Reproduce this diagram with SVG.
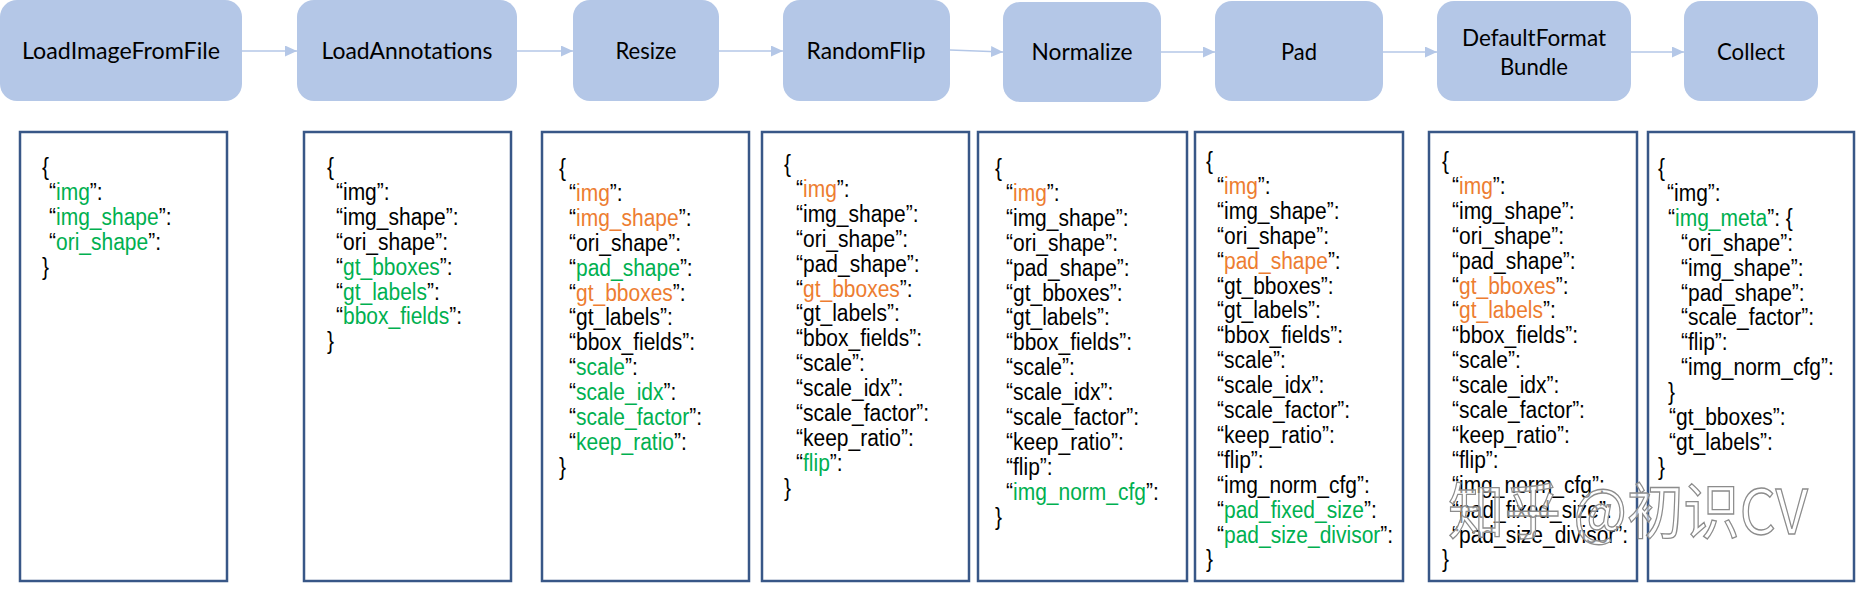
<svg xmlns="http://www.w3.org/2000/svg" width="1856" height="590" viewBox="0 0 1856 590">
<style>
.step{fill:#b4c7e7;}
.lbl{font-family:Lato,"Liberation Sans",sans-serif;font-size:23px;fill:#000;text-anchor:middle;}
.box{fill:#fff;stroke:#385787;stroke-width:2.5;}
.t{font-family:"Liberation Sans",Arial,sans-serif;font-size:21px;fill:#000;}
.g{fill:#00b050;}
.o{fill:#ed7d31;}
.conn{stroke:#b4c7e7;stroke-width:1.6;fill:none;}
.wm{font-family:"Noto Sans CJK SC",sans-serif;font-size:56px;fill:#ffffff;fill-opacity:0.55;stroke:#8c8c8c;stroke-width:1.2;}
</style>
<defs>
<marker id="ah" markerUnits="userSpaceOnUse" markerWidth="13" markerHeight="11" refX="12" refY="5.5" orient="auto">
<path d="M0,0 L12,5.5 L0,11 Z" fill="#b4c7e7"/>
</marker>
</defs>
<rect width="1856" height="590" fill="#fff"/>

<g id="connectors">
<line class="conn" x1="242" y1="51" x2="297" y2="51" marker-end="url(#ah)"/>
<line class="conn" x1="517" y1="51" x2="573" y2="51" marker-end="url(#ah)"/>
<line class="conn" x1="719" y1="51" x2="783" y2="51" marker-end="url(#ah)"/>
<line class="conn" x1="950" y1="50" x2="1003" y2="52" marker-end="url(#ah)"/>
<line class="conn" x1="1161" y1="52" x2="1215" y2="52" marker-end="url(#ah)"/>
<line class="conn" x1="1383" y1="52" x2="1437" y2="52" marker-end="url(#ah)"/>
<line class="conn" x1="1631" y1="52" x2="1684" y2="52" marker-end="url(#ah)"/>
</g>

<g id="LoadImageFromFile">
<rect class="step" x="0" y="0" width="242" height="101" rx="17"/>
<text class="lbl" x="121" y="59" textLength="198" lengthAdjust="spacingAndGlyphs">LoadImageFromFile</text>
</g>
<g id="LoadAnnotations">
<rect class="step" x="297" y="0" width="220" height="101" rx="17"/>
<text class="lbl" x="407" y="59" textLength="171" lengthAdjust="spacingAndGlyphs">LoadAnnotations</text>
</g>
<g id="Resize">
<rect class="step" x="573" y="0" width="146" height="101" rx="17"/>
<text class="lbl" x="646" y="59" textLength="61" lengthAdjust="spacingAndGlyphs">Resize</text>
</g>
<g id="RandomFlip">
<rect class="step" x="783" y="0" width="167" height="101" rx="17"/>
<text class="lbl" x="866" y="59" textLength="119" lengthAdjust="spacingAndGlyphs">RandomFlip</text>
</g>
<g id="Normalize">
<rect class="step" x="1003" y="2" width="158" height="100" rx="17"/>
<text class="lbl" x="1082" y="60" textLength="101" lengthAdjust="spacingAndGlyphs">Normalize</text>
</g>
<g id="Pad">
<rect class="step" x="1215" y="1" width="168" height="100" rx="17"/>
<text class="lbl" x="1299" y="60" textLength="36" lengthAdjust="spacingAndGlyphs">Pad</text>
</g>
<g id="DefaultFormatBundle">
<rect class="step" x="1437" y="1" width="194" height="100" rx="17"/>
<text class="lbl" x="1534" y="46" textLength="144" lengthAdjust="spacingAndGlyphs">DefaultFormat</text>
<text class="lbl" x="1534" y="75" textLength="68" lengthAdjust="spacingAndGlyphs">Bundle</text>
</g>
<g id="Collect">
<rect class="step" x="1684" y="1" width="134" height="100" rx="17"/>
<text class="lbl" x="1751" y="60" textLength="68" lengthAdjust="spacingAndGlyphs">Collect</text>
</g>

<g id="keys-LoadImageFromFile">
<rect class="box" x="20" y="132" width="207" height="449"/>
<g transform="translate(0,175) scale(1,1.1)"><text class="t"><tspan x="42" y="0">{</tspan>
<tspan x="49" dy="22.64">“<tspan class="g">img</tspan>”:</tspan>
<tspan x="49" dy="22.64">“<tspan class="g">img_shape</tspan>”:</tspan>
<tspan x="49" dy="22.64">“<tspan class="g">ori_shape</tspan>”:</tspan>
<tspan x="42" dy="22.64">}</tspan></text></g>
</g>

<g id="keys-LoadAnnotations">
<rect class="box" x="304" y="132" width="207" height="449"/>
<g transform="translate(0,175) scale(1,1.1)"><text class="t"><tspan x="327" y="0">{</tspan>
<tspan x="336" dy="22.64">“img”:</tspan>
<tspan x="336" dy="22.64">“img_shape”:</tspan>
<tspan x="336" dy="22.64">“ori_shape”:</tspan>
<tspan x="336" dy="22.64">“<tspan class="g">gt_bboxes</tspan>”:</tspan>
<tspan x="336" dy="22.64">“<tspan class="g">gt_labels</tspan>”:</tspan>
<tspan x="336" dy="22.64">“<tspan class="g">bbox_fields</tspan>”:</tspan>
<tspan x="327" dy="22.64">}</tspan></text></g>
</g>

<g id="keys-Resize">
<rect class="box" x="542" y="132" width="207" height="449"/>
<g transform="translate(0,176) scale(1,1.1)"><text class="t"><tspan x="559" y="0">{</tspan>
<tspan x="569" dy="22.64">“<tspan class="o">img</tspan>”:</tspan>
<tspan x="569" dy="22.64">“<tspan class="o">img_shape</tspan>”:</tspan>
<tspan x="569" dy="22.64">“ori_shape”:</tspan>
<tspan x="569" dy="22.64">“<tspan class="g">pad_shape</tspan>”:</tspan>
<tspan x="569" dy="22.64">“<tspan class="o">gt_bboxes</tspan>”:</tspan>
<tspan x="569" dy="22.64">“gt_labels”:</tspan>
<tspan x="569" dy="22.64">“bbox_fields”:</tspan>
<tspan x="569" dy="22.64">“<tspan class="g">scale</tspan>”:</tspan>
<tspan x="569" dy="22.64">“<tspan class="g">scale_idx</tspan>”:</tspan>
<tspan x="569" dy="22.64">“<tspan class="g">scale_factor</tspan>”:</tspan>
<tspan x="569" dy="22.64">“<tspan class="g">keep_ratio</tspan>”:</tspan>
<tspan x="559" dy="22.64">}</tspan></text></g>
</g>

<g id="keys-RandomFlip">
<rect class="box" x="762" y="132" width="207" height="449"/>
<g transform="translate(0,172) scale(1,1.1)"><text class="t"><tspan x="784" y="0">{</tspan>
<tspan x="796" dy="22.64">“<tspan class="o">img</tspan>”:</tspan>
<tspan x="796" dy="22.64">“img_shape”:</tspan>
<tspan x="796" dy="22.64">“ori_shape”:</tspan>
<tspan x="796" dy="22.64">“pad_shape”:</tspan>
<tspan x="796" dy="22.64">“<tspan class="o">gt_bboxes</tspan>”:</tspan>
<tspan x="796" dy="22.64">“gt_labels”:</tspan>
<tspan x="796" dy="22.64">“bbox_fields”:</tspan>
<tspan x="796" dy="22.64">“scale”:</tspan>
<tspan x="796" dy="22.64">“scale_idx”:</tspan>
<tspan x="796" dy="22.64">“scale_factor”:</tspan>
<tspan x="796" dy="22.64">“keep_ratio”:</tspan>
<tspan x="796" dy="22.64">“<tspan class="g">flip</tspan>”:</tspan>
<tspan x="784" dy="22.64">}</tspan></text></g>
</g>

<g id="keys-Normalize">
<rect class="box" x="978" y="132" width="209" height="449"/>
<g transform="translate(0,176) scale(1,1.1)"><text class="t"><tspan x="995" y="0">{</tspan>
<tspan x="1006" dy="22.64">“<tspan class="o">img</tspan>”:</tspan>
<tspan x="1006" dy="22.64">“img_shape”:</tspan>
<tspan x="1006" dy="22.64">“ori_shape”:</tspan>
<tspan x="1006" dy="22.64">“pad_shape”:</tspan>
<tspan x="1006" dy="22.64">“gt_bboxes”:</tspan>
<tspan x="1006" dy="22.64">“gt_labels”:</tspan>
<tspan x="1006" dy="22.64">“bbox_fields”:</tspan>
<tspan x="1006" dy="22.64">“scale”:</tspan>
<tspan x="1006" dy="22.64">“scale_idx”:</tspan>
<tspan x="1006" dy="22.64">“scale_factor”:</tspan>
<tspan x="1006" dy="22.64">“keep_ratio”:</tspan>
<tspan x="1006" dy="22.64">“flip”:</tspan>
<tspan x="1006" dy="22.64">“<tspan class="g">img_norm_cfg</tspan>”:</tspan>
<tspan x="995" dy="22.64">}</tspan></text></g>
</g>

<g id="keys-Pad">
<rect class="box" x="1195" y="132" width="208" height="449"/>
<g transform="translate(0,169) scale(1,1.1)"><text class="t"><tspan x="1206" y="0">{</tspan>
<tspan x="1217" dy="22.64">“<tspan class="o">img</tspan>”:</tspan>
<tspan x="1217" dy="22.64">“img_shape”:</tspan>
<tspan x="1217" dy="22.64">“ori_shape”:</tspan>
<tspan x="1217" dy="22.64">“<tspan class="o">pad_shape</tspan>”:</tspan>
<tspan x="1217" dy="22.64">“gt_bboxes”:</tspan>
<tspan x="1217" dy="22.64">“gt_labels”:</tspan>
<tspan x="1217" dy="22.64">“bbox_fields”:</tspan>
<tspan x="1217" dy="22.64">“scale”:</tspan>
<tspan x="1217" dy="22.64">“scale_idx”:</tspan>
<tspan x="1217" dy="22.64">“scale_factor”:</tspan>
<tspan x="1217" dy="22.64">“keep_ratio”:</tspan>
<tspan x="1217" dy="22.64">“flip”:</tspan>
<tspan x="1217" dy="22.64">“img_norm_cfg”:</tspan>
<tspan x="1217" dy="22.64">“<tspan class="g">pad_fixed_size</tspan>”:</tspan>
<tspan x="1217" dy="22.64">“<tspan class="g">pad_size_divisor</tspan>”:</tspan>
<tspan x="1206" dy="22.64">}</tspan></text></g>
</g>

<g id="keys-DefaultFormatBundle">
<rect class="box" x="1429" y="132" width="208" height="449"/>
<g transform="translate(0,169) scale(1,1.1)"><text class="t"><tspan x="1442" y="0">{</tspan>
<tspan x="1452" dy="22.64">“<tspan class="o">img</tspan>”:</tspan>
<tspan x="1452" dy="22.64">“img_shape”:</tspan>
<tspan x="1452" dy="22.64">“ori_shape”:</tspan>
<tspan x="1452" dy="22.64">“pad_shape”:</tspan>
<tspan x="1452" dy="22.64">“<tspan class="o">gt_bboxes</tspan>”:</tspan>
<tspan x="1452" dy="22.64">“<tspan class="o">gt_labels</tspan>”:</tspan>
<tspan x="1452" dy="22.64">“bbox_fields”:</tspan>
<tspan x="1452" dy="22.64">“scale”:</tspan>
<tspan x="1452" dy="22.64">“scale_idx”:</tspan>
<tspan x="1452" dy="22.64">“scale_factor”:</tspan>
<tspan x="1452" dy="22.64">“keep_ratio”:</tspan>
<tspan x="1452" dy="22.64">“flip”:</tspan>
<tspan x="1452" dy="22.64">“img_norm_cfg”:</tspan>
<tspan x="1452" dy="22.64">“pad_fixed_size”:</tspan>
<tspan x="1452" dy="22.64">“pad_size_divisor”:</tspan>
<tspan x="1442" dy="22.64">}</tspan></text></g>
</g>

<g id="keys-Collect">
<rect class="box" x="1648" y="132" width="206" height="449"/>
<g transform="translate(0,176) scale(1,1.1)"><text class="t"><tspan x="1658" y="0">{</tspan>
<tspan x="1667" dy="22.64">“img”:</tspan>
<tspan x="1668" dy="22.64">“<tspan class="g">img_meta</tspan>”: {</tspan>
<tspan x="1681" dy="22.64">“ori_shape”:</tspan>
<tspan x="1681" dy="22.64">“img_shape”:</tspan>
<tspan x="1681" dy="22.64">“pad_shape”:</tspan>
<tspan x="1681" dy="22.64">“scale_factor”:</tspan>
<tspan x="1681" dy="22.64">“flip”:</tspan>
<tspan x="1681" dy="22.64">“img_norm_cfg”:</tspan>
<tspan x="1668" dy="22.64">}</tspan>
<tspan x="1669" dy="22.64">“gt_bboxes”:</tspan>
<tspan x="1669" dy="22.64">“gt_labels”:</tspan>
<tspan x="1658" dy="22.64">}</tspan></text></g>
</g>

<g id="watermark" transform="translate(0,534) scale(1,1.1)">
<text class="wm" x="1448" y="0" textLength="360" lengthAdjust="spacingAndGlyphs">知乎 @初识CV</text>
</g>
</svg>
